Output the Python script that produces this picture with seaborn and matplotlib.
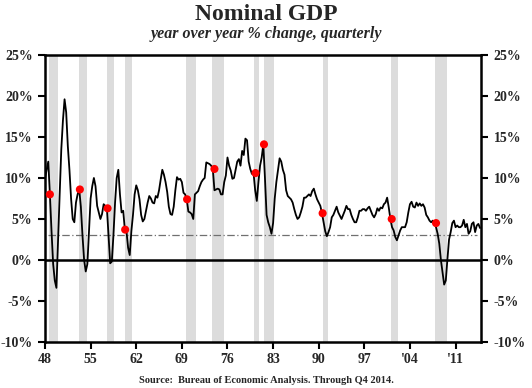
import numpy as np
import pandas as pd
import matplotlib
matplotlib.use("Agg")
import matplotlib.pyplot as plt
import seaborn as sns

# quarterly nominal GDP, year over year % change, 1948Q1 - 2014Q4
gdp_yoy = [
    9.9, 11.0, 12.0, 8.0,      # 1948
    3.5, -0.5, -2.5, -3.4,     # 1949
    2.5, 8.0, 13.5, 17.0,      # 1950
    19.6, 18.0, 13.9, 11.0,    # 1951
    7.5, 5.0, 4.6, 7.0,        # 1952
    8.0, 8.6, 6.5, 3.0,        # 1953
    0.0, -1.4, -0.5, 3.5,      # 1954
    7.5, 9.0, 10.0, 9.0,       # 1955
    6.6, 5.8, 5.0, 5.6,        # 1956
    6.8, 6.6, 6.3, 3.0,        # 1957
    -0.4, -0.2, 3.0, 7.0,      # 1958
    10.0, 11.0, 8.0, 5.8,      # 1959
    6.0, 3.7, 3.5, 1.5,        # 1960
    0.6, 3.5, 5.5, 8.0,        # 1961
    9.1, 8.5, 7.4, 5.5,        # 1962
    4.7, 5.0, 6.0, 7.0,        # 1963
    7.8, 7.5, 7.0, 6.9,        # 1964
    7.8, 7.6, 8.5, 9.8,        # 1965
    11.0, 10.4, 9.5, 8.3,      # 1966
    6.5, 5.6, 5.5, 6.5,        # 1967
    8.5, 10.1, 9.8, 9.9,       # 1968
    9.5, 8.2, 8.0, 7.4,        # 1969
    5.9, 5.8, 5.6, 5.0,        # 1970
    8.0, 8.2, 8.4, 9.0,        # 1971
    9.5, 9.8, 10.0, 11.9,      # 1972
    11.8, 11.7, 11.5, 11.1,    # 1973
    8.5, 8.6, 8.7, 8.6,        # 1974
    8.0, 8.0, 9.5, 10.3,       # 1975
    12.5, 11.5, 10.9, 9.9,     # 1976
    10.0, 11.0, 12.0, 12.3,    # 1977
    11.5, 13.3, 12.8, 14.8,    # 1978
    14.6, 12.0, 11.1, 10.5,    # 1979
    10.6, 8.5, 7.2, 9.5,       # 1980
    11.5, 12.5, 14.1, 10.0,    # 1981
    5.5, 4.6, 4.0, 3.2,        # 1982
    4.5, 7.5, 9.5, 11.0,       # 1983
    12.4, 12.0, 11.0, 10.4,    # 1984
    8.5, 7.8, 7.6, 7.4,        # 1985
    7.0, 6.2, 5.5, 5.0,        # 1986
    5.2, 5.8, 6.5, 7.6,        # 1987
    7.6, 7.8, 8.0, 7.8,        # 1988
    8.4, 8.7, 8.0, 7.4,        # 1989
    7.0, 6.6, 5.7, 4.6,        # 1990
    3.5, 2.9, 3.4, 4.0,        # 1991
    5.2, 5.5, 6.0, 6.5,        # 1992
    5.8, 5.4, 5.0, 5.5,        # 1993
    6.0, 6.6, 6.2, 6.2,        # 1994
    5.5, 5.0, 4.6, 4.6,        # 1995
    5.2, 6.0, 6.0, 6.2,        # 1996
    6.2, 6.0, 6.3, 6.5,        # 1997
    6.0, 5.5, 5.2, 5.6,        # 1998
    6.3, 6.0, 6.4, 6.3,        # 1999
    6.8, 7.0, 7.6, 6.4,        # 2000
    5.0, 4.0, 3.6, 2.8,        # 2001
    2.4, 3.0, 3.6, 4.0,        # 2002
    4.0, 4.0, 4.6, 5.8,        # 2003
    6.8, 7.1, 6.5, 6.4,        # 2004
    7.0, 6.6, 6.9, 6.6,        # 2005
    6.8, 6.4, 5.5, 5.2,        # 2006
    4.8, 4.6, 4.8, 4.5,        # 2007
    4.0, 3.2, 2.0, 0.0,        # 2008
    -1.5, -3.0, -2.5, 0.1,     # 2009
    2.5, 3.4, 4.5, 4.8,        # 2010
    4.0, 4.2, 4.0, 4.0,        # 2011
    4.2, 4.9, 4.0, 4.4,        # 2012
    3.2, 3.5, 4.4, 4.6,        # 2013
    3.4, 4.2, 4.4, 3.9,        # 2014
]
first_year = 1948

# recession shading (start, end) in years
recession_start = [1948.65, 1953.25, 1957.5, 1960.25, 1969.7, 1973.7, 1980.0, 1981.55, 1990.6, 2001.1, 2007.9]
recession_end = [1950.0, 1954.5, 1958.6, 1961.3, 1971.1, 1975.4, 1980.9, 1983.2, 1991.4, 2002.2, 2009.7]

# red dots at the start of each recession
peak_years = [1948.75, 1953.35, 1957.6, 1960.3, 1969.8, 1974.0, 1980.3, 1981.6, 1990.6, 2001.2, 2008.0]
peak_values = [8.0, 8.6, 6.3, 3.7, 7.4, 11.1, 10.6, 14.1, 5.7, 5.0, 4.5]

ref_level = 3.1

x_ticks = [1948, 1955, 1962, 1969, 1976, 1983, 1990, 1997, 2004, 2011]
x_labels = ["48", "55", "62", "69", "76", "83", "90", "97", "'04", "'11"]
y_ticks = [-10, -5, 0, 5, 10, 15, 20, 25]


def main():
    sns.set_style("ticks")
    plt.rcParams['font.family'] = ['Liberation Serif', 'DejaVu Serif']
    plt.rcParams['font.weight'] = 'bold'

    df = pd.DataFrame({
        "year": first_year + np.arange(len(gdp_yoy)) / 4.0,
        "yoy": gdp_yoy,
    })
    peaks = pd.DataFrame({"year": peak_years, "yoy": peak_values})

    fig = plt.figure(figsize=(5.32, 3.88), dpi=100)
    ax = fig.add_axes([0.0846, 0.1186, 0.8195, 0.7397])

    for s, e in zip(recession_start, recession_end):
        ax.axvspan(s, e, color="#dcdcdc", lw=0, zorder=0)

    ax.axhline(0, color="black", lw=1.8, zorder=2)
    ax.plot([1948.4, 2014.3], [ref_level, ref_level], color="#707070",
            lw=0.9, ls=(0, (6, 2, 1, 2)), zorder=2)

    sns.lineplot(data=df, x="year", y="yoy", color="black", lw=1.3, ax=ax, zorder=3)
    sns.scatterplot(data=peaks, x="year", y="yoy", color="#ff0000", s=34,
                    edgecolor="none", ax=ax, zorder=4)

    ax.set_xlim(1948.0, 2014.9)
    ax.set_ylim(-10, 25)
    ax.set_xlabel("")
    ax.set_ylabel("")

    ax.set_xticks(x_ticks)
    ax.set_xticklabels(x_labels)
    ax.set_yticks(y_ticks)
    ax.set_yticklabels([f"{v}%" for v in y_ticks])
    ax.tick_params(axis="both", direction="out", length=5, width=1.5,
                   labelsize=10, color="black")
    ax.tick_params(axis="x", pad=3)
    ax.tick_params(axis="y", which="both", left=True, right=True,
                   labelleft=True, labelright=True, pad=4)
    for lab in ax.get_xticklabels() + ax.yaxis.get_ticklabels(which="both"):
        lab.set_fontweight("bold")

    for sp in ax.spines.values():
        sp.set_visible(True)
        sp.set_color("black")
        sp.set_linewidth(1.8)

    fig.text(0.5, 0.962, "Nominal GDP", ha="center", va="center",
             fontsize=17, fontweight="bold")
    fig.text(0.5, 0.913, "year over year % change, quarterly", ha="center",
             va="center", fontsize=11.5, fontweight="bold", style="italic")
    fig.text(0.5, 0.02, "Source:  Bureau of Economic Analysis. Through Q4 2014.",
             ha="center", va="center", fontsize=7.5, fontweight="bold")

    fig.savefig("out.png", dpi=100)


if __name__ == "__main__":
    main()
